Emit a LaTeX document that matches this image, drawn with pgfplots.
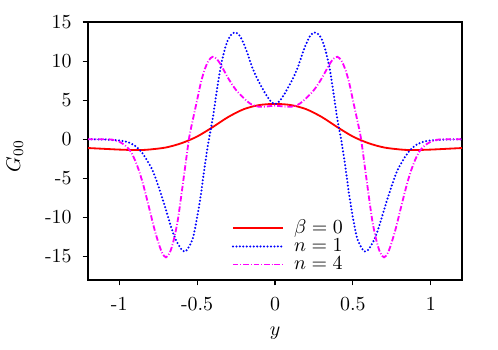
\documentclass[border=0pt]{standalone}
\usepackage{pgfplots}
\pgfplotsset{compat=1.18}
\definecolor{mag}{RGB}{255,0,255}

% beta = 0
\pgfplotstableread{
y G
-1.2 -1.12
-1.1 -1.22
-1.0 -1.32
-0.9 -1.38
-0.85 -1.37
-0.8 -1.30
-0.7 -1.05
-0.6 -0.50
-0.5 0.35
-0.4 1.55
-0.3 2.85
-0.2 3.85
-0.1 4.38
0 4.52
0.1 4.38
0.2 3.85
0.3 2.85
0.4 1.55
0.5 0.35
0.6 -0.50
0.7 -1.05
0.8 -1.30
0.85 -1.37
0.9 -1.38
1.0 -1.32
1.1 -1.22
1.2 -1.12
}\betazero

% n = 1
\pgfplotstableread{
y G
-1.2 0
-1.15 -0.01
-1.1 -0.03
-1.05 -0.08
-1.0 -0.15
-0.95 -0.33
-0.9 -0.8
-0.85 -1.8
-0.8 -3.4
-0.775 -4.5
-0.75 -5.9
-0.725 -7.4
-0.7 -9.0
-0.675 -10.7
-0.65 -12.2
-0.625 -13.3
-0.6 -14.1
-0.575 -14.35
-0.55 -13.7
-0.525 -12.5
-0.5 -10.0
-0.475 -7.0
-0.45 -3.3
-0.425 -0.1
-0.4 2.6
-0.375 6.0
-0.35 9.1
-0.325 11.3
-0.3 12.8
-0.275 13.5
-0.25 13.65
-0.225 13.2
-0.2 12.2
-0.175 10.9
-0.15 9.4
-0.125 8.2
-0.1 7.2
-0.075 6.3
-0.05 5.45
-0.025 4.8
0 4.5
0.025 4.8
0.05 5.45
0.075 6.3
0.1 7.2
0.125 8.2
0.15 9.4
0.175 10.9
0.2 12.2
0.225 13.2
0.25 13.65
0.275 13.5
0.3 12.8
0.325 11.3
0.35 9.1
0.375 6.0
0.4 2.6
0.425 -0.1
0.45 -3.3
0.475 -7.0
0.5 -10.0
0.525 -12.5
0.55 -13.7
0.575 -14.35
0.6 -14.1
0.625 -13.3
0.65 -12.2
0.675 -10.7
0.7 -9.0
0.725 -7.4
0.75 -5.9
0.775 -4.5
0.8 -3.4
0.85 -1.8
0.9 -0.8
0.95 -0.33
1.0 -0.15
1.05 -0.08
1.1 -0.03
1.15 -0.01
1.2 0
}\none

% n = 4
\pgfplotstableread{
y G
-1.2 0
-1.1 0
-1.05 -0.03
-1.0 -0.3
-0.975 -0.6
-0.95 -1.0
-0.925 -1.6
-0.9 -2.6
-0.875 -3.9
-0.85 -5.5
-0.825 -7.4
-0.8 -9.4
-0.775 -11.4
-0.75 -13.1
-0.725 -14.5
-0.7 -15.1
-0.675 -14.5
-0.65 -12.9
-0.625 -10.5
-0.6 -7.0
-0.575 -3.3
-0.55 0.3
-0.525 2.7
-0.5 5.0
-0.475 7.3
-0.45 9.0
-0.425 10.1
-0.4 10.55
-0.375 10.3
-0.35 9.6
-0.325 8.7
-0.3 7.8
-0.275 7.0
-0.25 6.3
-0.225 5.75
-0.2 5.25
-0.175 4.8
-0.15 4.45
-0.125 4.25
-0.1 4.15
-0.05 4.2
0 4.3
0.05 4.2
0.1 4.15
0.125 4.25
0.15 4.45
0.175 4.8
0.2 5.25
0.225 5.75
0.25 6.3
0.275 7.0
0.3 7.8
0.325 8.7
0.35 9.6
0.375 10.3
0.4 10.55
0.425 10.1
0.45 9.0
0.475 7.3
0.5 5.0
0.525 2.7
0.55 0.3
0.575 -3.3
0.6 -7.0
0.625 -10.5
0.65 -12.9
0.675 -14.5
0.7 -15.1
0.725 -14.5
0.75 -13.1
0.775 -11.4
0.8 -9.4
0.825 -7.4
0.85 -5.5
0.875 -3.9
0.9 -2.6
0.925 -1.6
0.95 -1.0
0.975 -0.6
1.0 -0.3
1.05 -0.03
1.1 0
1.2 0
}\nfour

\begin{document}
\begin{tikzpicture}[font=\fontsize{10.95}{13}\selectfont]
\begin{axis}[
    scale only axis,
    width=205.7pt, height=141.9pt,
    xmin=-1.2, xmax=1.2, ymin=-18, ymax=15,
    xtick={-1,-0.5,0,0.5,1}, xticklabels={-1,-0.5,0,0.5,1},
    ytick={-15,-10,-5,0,5,10,15}, yticklabels={-15,-10,-5,0,5,10,15},
    tick align=outside, xtick pos=left, ytick pos=left,
    major tick length=3pt,
    tick style={black, line width=0.6pt},
    axis line style={line width=0.6pt},
    tick label style={font=\fontsize{10.95}{13}\selectfont},
    yticklabel style={xshift=-2.5pt},
    xticklabel style={yshift=-3pt},
    xlabel={$y$}, ylabel={$G_{00}$},
    label style={font=\fontsize{10.95}{13}\selectfont},
    xlabel style={at={(axis description cs:0.5,-0.205)}, anchor=center},
    ylabel style={at={(axis description cs:-0.1954,0.48)}, anchor=center},
    legend style={draw=none, fill=none, at={(axis description cs:0.369,0)},
        anchor=south west, row sep=-2.6pt, font=\fontsize{10.95}{13}\selectfont},
    legend cell align=left,
    legend image code/.code={\draw[#1] (0pt,0pt) -- (27.5pt,0pt); \path (31pt,0pt);},
]
\addplot[red, line width=1pt, smooth] table {\betazero};
\addplot[blue, line width=1.25pt, line cap=round, dash pattern=on 0pt off 1.9pt, smooth] table {\none};
\addplot[mag, line width=1pt, dash pattern=on 3pt off 1.1pt on 0.5pt off 1.1pt, smooth] table {\nfour};
\legend{$\beta=0$,$n=1$,$n=4$}
\coordinate (sw) at (rel axis cs:0,0);
\coordinate (ne) at (rel axis cs:1,1);
\end{axis}
\path ([shift={(-48.4pt,-37.95pt)}]sw) rectangle ([shift={(19.8pt,12.1pt)}]ne);
\end{tikzpicture}
\end{document}
